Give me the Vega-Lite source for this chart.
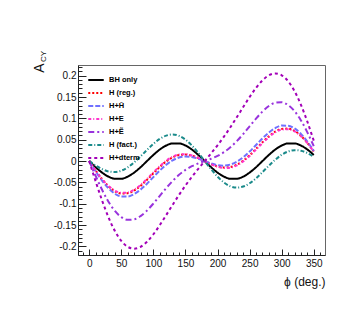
{
"$schema": "https://vega.github.io/schema/vega-lite/v6.json",
"width": 247, "height": 190,
"autosize": {"type": "none"},
"padding": {"left": 78, "top": 65, "right": 29, "bottom": 72},
"background": "white",
"config": {
  "font": "Liberation Sans",
  "view": {"stroke": "#666", "strokeWidth": 1},
  "axis": {"grid": false, "domainColor": "#222", "tickColor": "#222", "labelColor": "#111", "labelFontSize": 10, "labelFont": "Liberation Sans", "titleFont": "Liberation Sans", "titleFontWeight": "normal", "titleColor": "#111"}
},
"datasets": {
  "curves": [
{"s":"BH only","p":0,"a":0},{"s":"BH only","p":10,"a":-0.0144},{"s":"BH only","p":20,"a":-0.027},{"s":"BH only","p":30,"a":-0.0364},{"s":"BH only","p":40,"a":-0.0414},{"s":"BH only","p":50,"a":-0.0414},{"s":"BH only","p":60,"a":-0.0364},{"s":"BH only","p":70,"a":-0.027},{"s":"BH only","p":80,"a":-0.0144},{"s":"BH only","p":90,"a":0},{"s":"BH only","p":100,"a":0.0144},{"s":"BH only","p":110,"a":0.027},{"s":"BH only","p":120,"a":0.0364},{"s":"BH only","p":130,"a":0.0414},{"s":"BH only","p":140,"a":0.0414},{"s":"BH only","p":150,"a":0.0364},{"s":"BH only","p":160,"a":0.027},{"s":"BH only","p":170,"a":0.0144},{"s":"BH only","p":180,"a":0},{"s":"BH only","p":190,"a":-0.0144},{"s":"BH only","p":200,"a":-0.027},{"s":"BH only","p":210,"a":-0.0364},{"s":"BH only","p":220,"a":-0.0414},{"s":"BH only","p":230,"a":-0.0414},{"s":"BH only","p":240,"a":-0.0364},{"s":"BH only","p":250,"a":-0.027},{"s":"BH only","p":260,"a":-0.0144},{"s":"BH only","p":270,"a":0},{"s":"BH only","p":280,"a":0.0144},{"s":"BH only","p":290,"a":0.027},{"s":"BH only","p":300,"a":0.0364},{"s":"BH only","p":310,"a":0.0414},{"s":"BH only","p":320,"a":0.0414},{"s":"BH only","p":330,"a":0.0364},{"s":"BH only","p":340,"a":0.027},{"s":"BH only","p":350,"a":0.0144},
{"s":"H (reg.)","p":0,"a":0},{"s":"H (reg.)","p":10,"a":-0.0223},{"s":"H (reg.)","p":20,"a":-0.0426},{"s":"H (reg.)","p":30,"a":-0.0592},{"s":"H (reg.)","p":40,"a":-0.0706},{"s":"H (reg.)","p":50,"a":-0.076},{"s":"H (reg.)","p":60,"a":-0.0753},{"s":"H (reg.)","p":70,"a":-0.0689},{"s":"H (reg.)","p":80,"a":-0.058},{"s":"H (reg.)","p":90,"a":-0.044},{"s":"H (reg.)","p":100,"a":-0.0286},{"s":"H (reg.)","p":110,"a":-0.0137},{"s":"H (reg.)","p":120,"a":-0.0009},{"s":"H (reg.)","p":130,"a":0.0086},{"s":"H (reg.)","p":140,"a":0.014},{"s":"H (reg.)","p":150,"a":0.0152},{"s":"H (reg.)","p":160,"a":0.0126},{"s":"H (reg.)","p":170,"a":0.0071},{"s":"H (reg.)","p":180,"a":0},{"s":"H (reg.)","p":190,"a":-0.0071},{"s":"H (reg.)","p":200,"a":-0.0126},{"s":"H (reg.)","p":210,"a":-0.0152},{"s":"H (reg.)","p":220,"a":-0.014},{"s":"H (reg.)","p":230,"a":-0.0086},{"s":"H (reg.)","p":240,"a":0.0009},{"s":"H (reg.)","p":250,"a":0.0137},{"s":"H (reg.)","p":260,"a":0.0286},{"s":"H (reg.)","p":270,"a":0.044},{"s":"H (reg.)","p":280,"a":0.058},{"s":"H (reg.)","p":290,"a":0.0689},{"s":"H (reg.)","p":300,"a":0.0753},{"s":"H (reg.)","p":310,"a":0.076},{"s":"H (reg.)","p":320,"a":0.0706},{"s":"H (reg.)","p":330,"a":0.0592},{"s":"H (reg.)","p":340,"a":0.0426},{"s":"H (reg.)","p":350,"a":0.0223},
{"s":"H+H\u0303","p":0,"a":0},{"s":"H+H\u0303","p":10,"a":-0.0239},{"s":"H+H\u0303","p":20,"a":-0.0457},{"s":"H+H\u0303","p":30,"a":-0.0637},{"s":"H+H\u0303","p":40,"a":-0.0764},{"s":"H+H\u0303","p":50,"a":-0.0829},{"s":"H+H\u0303","p":60,"a":-0.0831},{"s":"H+H\u0303","p":70,"a":-0.0774},{"s":"H+H\u0303","p":80,"a":-0.0669},{"s":"H+H\u0303","p":90,"a":-0.053},{"s":"H+H\u0303","p":100,"a":-0.0375},{"s":"H+H\u0303","p":110,"a":-0.0222},{"s":"H+H\u0303","p":120,"a":-0.0087},{"s":"H+H\u0303","p":130,"a":0.0017},{"s":"H+H\u0303","p":140,"a":0.0082},{"s":"H+H\u0303","p":150,"a":0.0107},{"s":"H+H\u0303","p":160,"a":0.0095},{"s":"H+H\u0303","p":170,"a":0.0055},{"s":"H+H\u0303","p":180,"a":0},{"s":"H+H\u0303","p":190,"a":-0.0055},{"s":"H+H\u0303","p":200,"a":-0.0095},{"s":"H+H\u0303","p":210,"a":-0.0107},{"s":"H+H\u0303","p":220,"a":-0.0082},{"s":"H+H\u0303","p":230,"a":-0.0017},{"s":"H+H\u0303","p":240,"a":0.0087},{"s":"H+H\u0303","p":250,"a":0.0222},{"s":"H+H\u0303","p":260,"a":0.0375},{"s":"H+H\u0303","p":270,"a":0.053},{"s":"H+H\u0303","p":280,"a":0.0669},{"s":"H+H\u0303","p":290,"a":0.0774},{"s":"H+H\u0303","p":300,"a":0.0831},{"s":"H+H\u0303","p":310,"a":0.0829},{"s":"H+H\u0303","p":320,"a":0.0764},{"s":"H+H\u0303","p":330,"a":0.0637},{"s":"H+H\u0303","p":340,"a":0.0457},{"s":"H+H\u0303","p":350,"a":0.0239},
{"s":"H+E","p":0,"a":0},{"s":"H+E","p":10,"a":-0.022},{"s":"H+E","p":20,"a":-0.042},{"s":"H+E","p":30,"a":-0.0582},{"s":"H+E","p":40,"a":-0.0693},{"s":"H+E","p":50,"a":-0.0745},{"s":"H+E","p":60,"a":-0.0736},{"s":"H+E","p":70,"a":-0.0671},{"s":"H+E","p":80,"a":-0.0561},{"s":"H+E","p":90,"a":-0.042},{"s":"H+E","p":100,"a":-0.0267},{"s":"H+E","p":110,"a":-0.0119},{"s":"H+E","p":120,"a":0.0008},{"s":"H+E","p":130,"a":0.0101},{"s":"H+E","p":140,"a":0.0153},{"s":"H+E","p":150,"a":0.0162},{"s":"H+E","p":160,"a":0.0132},{"s":"H+E","p":170,"a":0.0074},{"s":"H+E","p":180,"a":0},{"s":"H+E","p":190,"a":-0.0074},{"s":"H+E","p":200,"a":-0.0132},{"s":"H+E","p":210,"a":-0.0162},{"s":"H+E","p":220,"a":-0.0153},{"s":"H+E","p":230,"a":-0.0101},{"s":"H+E","p":240,"a":-0.0008},{"s":"H+E","p":250,"a":0.0119},{"s":"H+E","p":260,"a":0.0267},{"s":"H+E","p":270,"a":0.042},{"s":"H+E","p":280,"a":0.0561},{"s":"H+E","p":290,"a":0.0671},{"s":"H+E","p":300,"a":0.0736},{"s":"H+E","p":310,"a":0.0745},{"s":"H+E","p":320,"a":0.0693},{"s":"H+E","p":330,"a":0.0582},{"s":"H+E","p":340,"a":0.042},{"s":"H+E","p":350,"a":0.022},
{"s":"H+\u1ebc","p":0,"a":0},{"s":"H+\u1ebc","p":10,"a":-0.0348},{"s":"H+\u1ebc","p":20,"a":-0.0673},{"s":"H+\u1ebc","p":30,"a":-0.0952},{"s":"H+\u1ebc","p":40,"a":-0.1169},{"s":"H+\u1ebc","p":50,"a":-0.1312},{"s":"H+\u1ebc","p":60,"a":-0.1377},{"s":"H+\u1ebc","p":70,"a":-0.1366},{"s":"H+\u1ebc","p":80,"a":-0.1289},{"s":"H+\u1ebc","p":90,"a":-0.116},{"s":"H+\u1ebc","p":100,"a":-0.0995},{"s":"H+\u1ebc","p":110,"a":-0.0814},{"s":"H+\u1ebc","p":120,"a":-0.0633},{"s":"H+\u1ebc","p":130,"a":-0.0466},{"s":"H+\u1ebc","p":140,"a":-0.0323},{"s":"H+\u1ebc","p":150,"a":-0.0208},{"s":"H+\u1ebc","p":160,"a":-0.0121},{"s":"H+\u1ebc","p":170,"a":-0.0054},{"s":"H+\u1ebc","p":180,"a":0},{"s":"H+\u1ebc","p":190,"a":0.0054},{"s":"H+\u1ebc","p":200,"a":0.0121},{"s":"H+\u1ebc","p":210,"a":0.0208},{"s":"H+\u1ebc","p":220,"a":0.0323},{"s":"H+\u1ebc","p":230,"a":0.0466},{"s":"H+\u1ebc","p":240,"a":0.0633},{"s":"H+\u1ebc","p":250,"a":0.0814},{"s":"H+\u1ebc","p":260,"a":0.0995},{"s":"H+\u1ebc","p":270,"a":0.116},{"s":"H+\u1ebc","p":280,"a":0.1289},{"s":"H+\u1ebc","p":290,"a":0.1366},{"s":"H+\u1ebc","p":300,"a":0.1377},{"s":"H+\u1ebc","p":310,"a":0.1312},{"s":"H+\u1ebc","p":320,"a":0.1169},{"s":"H+\u1ebc","p":330,"a":0.0952},{"s":"H+\u1ebc","p":340,"a":0.0673},{"s":"H+\u1ebc","p":350,"a":0.0348},
{"s":"H (fact.)","p":0,"a":0},{"s":"H (fact.)","p":10,"a":-0.0102},{"s":"H (fact.)","p":20,"a":-0.0187},{"s":"H (fact.)","p":30,"a":-0.0242},{"s":"H (fact.)","p":40,"a":-0.0256},{"s":"H (fact.)","p":50,"a":-0.0224},{"s":"H (fact.)","p":60,"a":-0.0147},{"s":"H (fact.)","p":70,"a":-0.0032},{"s":"H (fact.)","p":80,"a":0.0109},{"s":"H (fact.)","p":90,"a":0.026},{"s":"H (fact.)","p":100,"a":0.0403},{"s":"H (fact.)","p":110,"a":0.052},{"s":"H (fact.)","p":120,"a":0.0597},{"s":"H (fact.)","p":130,"a":0.0622},{"s":"H (fact.)","p":140,"a":0.059},{"s":"H (fact.)","p":150,"a":0.0502},{"s":"H (fact.)","p":160,"a":0.0365},{"s":"H (fact.)","p":170,"a":0.0192},{"s":"H (fact.)","p":180,"a":0},{"s":"H (fact.)","p":190,"a":-0.0192},{"s":"H (fact.)","p":200,"a":-0.0365},{"s":"H (fact.)","p":210,"a":-0.0502},{"s":"H (fact.)","p":220,"a":-0.059},{"s":"H (fact.)","p":230,"a":-0.0622},{"s":"H (fact.)","p":240,"a":-0.0597},{"s":"H (fact.)","p":250,"a":-0.052},{"s":"H (fact.)","p":260,"a":-0.0403},{"s":"H (fact.)","p":270,"a":-0.026},{"s":"H (fact.)","p":280,"a":-0.0109},{"s":"H (fact.)","p":290,"a":0.0032},{"s":"H (fact.)","p":300,"a":0.0147},{"s":"H (fact.)","p":310,"a":0.0224},{"s":"H (fact.)","p":320,"a":0.0256},{"s":"H (fact.)","p":330,"a":0.0242},{"s":"H (fact.)","p":340,"a":0.0187},{"s":"H (fact.)","p":350,"a":0.0102},
{"s":"H+dterm","p":0,"a":0},{"s":"H+dterm","p":10,"a":-0.0475},{"s":"H+dterm","p":20,"a":-0.0922},{"s":"H+dterm","p":30,"a":-0.1317},{"s":"H+dterm","p":40,"a":-0.1638},{"s":"H+dterm","p":50,"a":-0.1871},{"s":"H+dterm","p":60,"a":-0.2009},{"s":"H+dterm","p":70,"a":-0.2052},{"s":"H+dterm","p":80,"a":-0.2008},{"s":"H+dterm","p":90,"a":-0.189},{"s":"H+dterm","p":100,"a":-0.1714},{"s":"H+dterm","p":110,"a":-0.15},{"s":"H+dterm","p":120,"a":-0.1265},{"s":"H+dterm","p":130,"a":-0.1025},{"s":"H+dterm","p":140,"a":-0.0792},{"s":"H+dterm","p":150,"a":-0.0573},{"s":"H+dterm","p":160,"a":-0.037},{"s":"H+dterm","p":170,"a":-0.0181},{"s":"H+dterm","p":180,"a":0},{"s":"H+dterm","p":190,"a":0.0181},{"s":"H+dterm","p":200,"a":0.037},{"s":"H+dterm","p":210,"a":0.0573},{"s":"H+dterm","p":220,"a":0.0792},{"s":"H+dterm","p":230,"a":0.1025},{"s":"H+dterm","p":240,"a":0.1265},{"s":"H+dterm","p":250,"a":0.15},{"s":"H+dterm","p":260,"a":0.1714},{"s":"H+dterm","p":270,"a":0.189},{"s":"H+dterm","p":280,"a":0.2008},{"s":"H+dterm","p":290,"a":0.2052},{"s":"H+dterm","p":300,"a":0.2009},{"s":"H+dterm","p":310,"a":0.1871},{"s":"H+dterm","p":320,"a":0.1638},{"s":"H+dterm","p":330,"a":0.1317},{"s":"H+dterm","p":340,"a":0.0922},{"s":"H+dterm","p":350,"a":0.0475}
  ],
  "label": [{"t": "CY"}]
},
"layer": [
  {
    "data": {"name": "curves"},
    "mark": {"type": "line", "strokeWidth": 2, "interpolate": "monotone", "clip": true},
    "encoding": {
      "x": {"field": "p", "type": "quantitative",
        "scale": {"domain": [-17.5, 367.5], "nice": false, "zero": false},
        "axis": {"orient": "bottom", "values": [0, 50, 100, 150, 200, 250, 300, 350], "format": "d", "tickSize": -6, "labelPadding": 9,
                 "title": "\u03d5 (deg.)", "titleAnchor": "end", "titleFontSize": 12, "titlePadding": 8}},
      "y": {"field": "a", "type": "quantitative",
        "scale": {"domain": [-0.22, 0.225], "nice": false, "zero": false},
        "axis": {"orient": "left", "values": [-0.2, -0.15, -0.1, -0.05, 0, 0.05, 0.1, 0.15, 0.2], "tickSize": -8, "labelPadding": 10,
                 "labelExpr": "replace(format(datum.value, '~g'), '\u2212', '-')",
                 "title": "A", "titleFontSize": 14, "titleAngle": -90, "titleAlign": "right", "titleBaseline": "alphabetic", "titleX": -35, "titleY": -2}},
      "color": {"field": "s", "type": "nominal",
        "scale": {"domain": ["BH only", "H (reg.)", "H+H\u0303", "H+E", "H+\u1ebc", "H (fact.)", "H+dterm"],
                  "range": ["#000000", "#ff0000", "#7070ff", "#ff33cc", "#9933dd", "#1a8a8a", "#a300b8"]},
        "legend": {"orient": "none", "legendX": 9, "legendY": 6, "title": null, "symbolType": "stroke", "symbolStrokeWidth": 2, "symbolSize": 240,
                   "labelFont": "Liberation Sans", "labelFontSize": 7.5, "labelFontWeight": "bold", "labelColor": "#000", "labelOffset": 4, "rowPadding": -9, "padding": 0}},
      "strokeDash": {"field": "s", "type": "nominal",
        "scale": {"domain": ["BH only", "H (reg.)", "H+H\u0303", "H+E", "H+\u1ebc", "H (fact.)", "H+dterm"],
                  "range": [[1, 0], [2, 2], [5, 2], [3, 2, 1, 2], [6, 3, 2, 3], [4, 2, 1, 2], [3, 3]]},
        "legend": {"orient": "none", "legendX": 9, "legendY": 6, "title": null, "symbolType": "stroke", "symbolStrokeWidth": 2, "symbolSize": 240,
                   "labelFont": "Liberation Sans", "labelFontSize": 7.5, "labelFontWeight": "bold", "labelColor": "#000", "labelOffset": 4, "rowPadding": -9, "padding": 0}}
    }
  },
  {
    "data": {"name": "label"},
    "mark": {"type": "text", "angle": 270, "align": "left", "baseline": "alphabetic", "fontSize": 8, "font": "Liberation Sans", "color": "#111", "clip": false},
    "encoding": {
      "text": {"field": "t", "type": "nominal"},
      "x": {"datum": -67.4, "type": "quantitative",
        "axis": {"orient": "bottom", "values": [-10, 0, 10, 20, 30, 40, 50, 60, 70, 80, 90, 100, 110, 120, 130, 140, 150, 160, 170, 180, 190, 200, 210, 220, 230, 240, 250, 260, 270, 280, 290, 300, 310, 320, 330, 340, 350, 360],
                 "tickSize": -3, "labels": false, "domain": false, "title": null}},
      "y": {"datum": 0.232, "type": "quantitative",
        "axis": {"orient": "left", "values": [-0.21, -0.2, -0.19, -0.18, -0.17, -0.16, -0.15, -0.14, -0.13, -0.12, -0.11, -0.1, -0.09, -0.08, -0.07, -0.06, -0.05, -0.04, -0.03, -0.02, -0.01, 0, 0.01, 0.02, 0.03, 0.04, 0.05, 0.06, 0.07, 0.08, 0.09, 0.1, 0.11, 0.12, 0.13, 0.14, 0.15, 0.16, 0.17, 0.18, 0.19, 0.2, 0.21, 0.22],
                 "tickSize": -4, "labels": false, "domain": false, "title": null}}
    }
  }
],
"resolve": {"axis": {"x": "independent", "y": "independent"}}
}
